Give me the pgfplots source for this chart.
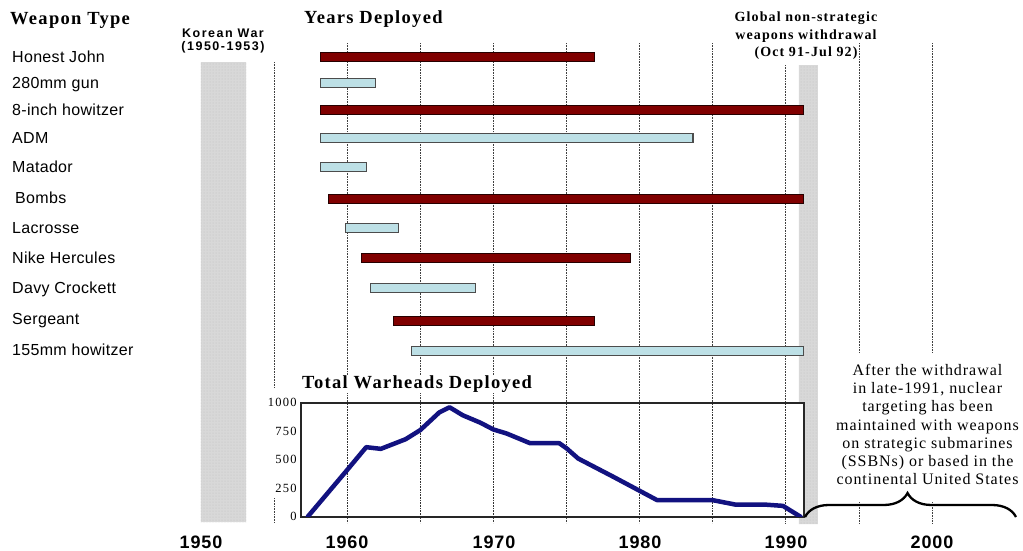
\documentclass[border=0pt]{standalone}
\usepackage{pgfplots}
\pgfplotsset{compat=1.18}
\usepackage{pgfplotstable}
\usepackage{fontspec}
\setmainfont{Liberation Serif}
\setsansfont{Liberation Sans}
\newfontfamily\wsans[LetterSpace=2]{Liberation Sans}
\newfontfamily\hserif[LetterSpace=7]{Liberation Serif}
\newfontfamily\gserif[LetterSpace=8]{Liberation Serif}
\newfontfamily\aserif[LetterSpace=6]{Liberation Serif}
\newfontfamily\ksans[LetterSpace=12]{Liberation Sans}
\newfontfamily\ysans[LetterSpace=5]{Liberation Sans}
\newfontfamily\tserif[LetterSpace=10]{Liberation Serif}
\usetikzlibrary{decorations.pathreplacing,patterns}
\definecolor{barred}{RGB}{128,0,0}
\definecolor{barblue}{RGB}{189,224,230}
\definecolor{navyline}{RGB}{18,18,128}
\definecolor{shade}{RGB}{216,216,216}

% weapon systems: y = row position (px from top), start/end year, type 1 = red, 2 = blue
\pgfplotstableread{
y start end type
57 1958.2 1976.9 1
83 1958.2 1961.95 2
110 1958.2 1991.2 1
138 1958.2 1983.65 2
167 1958.2 1961.3 2
199 1958.75 1991.2 1
228 1959.9 1963.5 2
258 1960.95 1979.4 1
288 1961.6 1968.8 2
321 1963.2 1976.9 1
351 1964.4 1991.2 2
}\bars

\pgfplotstableread{
year total
1957.3 0
1960.0 410
1961.3 610
1962.3 595
1964.0 680
1965.0 760
1966.3 915
1967.0 960
1967.9 890
1969.1 825
1970.0 765
1970.9 730
1972.5 645
1974.5 645
1975.0 600
1975.8 510
1978.2 350
1981.2 145
1985.0 145
1986.6 105
1988.7 105
1989.8 95
1991.0 0
}\warheads

\pgfplotsset{mainax/.style={at={(0,0)}, anchor=south west, width=1023pt, height=550pt,
  scale only axis, xmin=1936.252, xmax=2006.224, ymin=0, ymax=550, y dir=reverse, hide axis}}
\tikzset{gridst/.style={draw=black!75, line width=0.8pt, dash pattern=on 0.8pt off 0.8pt}}

\begin{document}
\begin{tikzpicture}
% background: shaded periods and grid lines
\begin{axis}[mainax]
\addplot[fill=shade, draw=none, postaction={pattern=dots, pattern color=black!25}]
  coordinates {(1950,62) (1953.08,62) (1953.08,522) (1950,522) (1950,62)};
\addplot[fill=shade, draw=none, postaction={pattern=dots, pattern color=black!25}]
  coordinates {(1990.9,65) (1992.2,65) (1992.2,524) (1990.9,524) (1990.9,65)};
\draw[gridst] (axis cs:1955,62) -- (axis cs:1955,387);
\draw[gridst] (axis cs:1955,498) -- (axis cs:1955,523);
\pgfplotsinvokeforeach{1960,1965,1970,1975,1980,1985}{
  \draw[gridst] (axis cs:#1,43) -- (axis cs:#1,523);}
\draw[gridst] (axis cs:1990,65) -- (axis cs:1990,523);
\pgfplotsinvokeforeach{1995,2000}{
  \draw[gridst] (axis cs:#1,43) -- (axis cs:#1,353);
  \draw[gridst] (axis cs:#1,502) -- (axis cs:#1,523);}
\end{axis}
% deployment bars
\begin{axis}[mainax, xbar stacked, bar width=9.5pt]
\addplot[draw=none, fill=none] table[x=start, y=y]{\bars};
\addplot[fill=barred, draw=black!70!barred, line width=1pt]
  table[x expr={\thisrow{type}==1 ? \thisrow{end}-\thisrow{start} : 0}, y=y]{\bars};
\addplot[fill=barblue, draw=black!70, line width=1.2pt]
  table[x expr={\thisrow{type}==2 ? \thisrow{end}-\thisrow{start} : 0}, y=y]{\bars};
\end{axis}
% inset: total warheads
\begin{axis}[at={(300.7pt,33.3pt)}, anchor=south west, width=503.3pt, height=114pt, scale only axis,
  xmin=1956.82, xmax=1991.24, ymin=0, ymax=1000,
  ytick={0,250,500,750,1000}, xtick={1960,1965,...,1990}, xticklabels={},
  xmajorgrids, major grid style={draw=black!80, line width=0.8pt, dash pattern=on 0.8pt off 0.8pt},
  axis line style={line width=1.6pt, black!85}, major tick length=0pt,
  /pgf/number format/assume math mode=true, /pgf/number format/1000 sep={},
  yticklabel style={font=\tserif\fontsize{12.5}{13}\selectfont, fill=white, inner sep=1pt, xshift=-3pt},
  axis background/.style={fill=white}]
\addplot[navyline, line width=4.5pt, line join=round, line cap=round] table[x=year, y=total]{\warheads};
\end{axis}
% annotations in pixel coordinates
\begin{scope}[x=1pt, y=-1pt, shift={(0pt,550pt)}]
\node[anchor=west, inner sep=0pt, font=\hserif\bfseries\fontsize{18.5}{20}\selectfont] at (10,20) {Weapon Type};
\node[anchor=west, inner sep=0pt, font=\hserif\bfseries\fontsize{18.5}{20}\selectfont] at (304,19) {Years Deployed};
\node[anchor=west, inner sep=1pt, fill=white, font=\hserif\bfseries\fontsize{18.5}{20}\selectfont] at (301,384) {Total Warheads Deployed};
\node[align=center, inner sep=0pt, font=\ksans\bfseries\fontsize{12.5}{13}\selectfont] at (223,41) {Korean War\\(1950-1953)};
\node[align=center, inner sep=0pt, font=\gserif\bfseries\fontsize{14}{17.5}\selectfont] at (806,36) {Global non-strategic\\weapons withdrawal\\(Oct 91-Jul 92)};
\node[align=center, inner sep=0pt, font=\aserif\fontsize{16}{18.2}\selectfont] at (927.5,424.5) {After the withdrawal\\in late-1991, nuclear\\targeting has been\\maintained with weapons\\on strategic submarines\\(SSBNs) or based in the\\continental United States};
\foreach \yy/\lab in {57/Honest John, 83/280mm gun, 110/8-inch howitzer, 138/ADM, 167/Matador, 228/Lacrosse, 258/Nike Hercules, 288/Davy Crockett, 319/Sergeant, 350/155mm howitzer}
  \node[anchor=base west, inner sep=0pt, font=\wsans\fontsize{16}{18}\selectfont] at (12,\yy+5.7) {\lab};
\node[anchor=base west, inner sep=0pt, font=\wsans\fontsize{16}{18}\selectfont] at (15,203.7) {Bombs};
\foreach \xx/\lab in {201/1950, 347/1960, 494/1970, 640/1980, 786/1990, 932/2000}
  \node[inner sep=0pt, font=\ysans\bfseries\fontsize{18}{18}\selectfont] at (\xx,542) {\lab};
\draw[line width=2.3pt, decorate, decoration={brace, amplitude=24pt, aspect=0.486}] (805,517) -- (1016,517);
\end{scope}
\pgfresetboundingbox
\path (0,0) rectangle (1023pt,550pt);
\end{tikzpicture}
\end{document}
